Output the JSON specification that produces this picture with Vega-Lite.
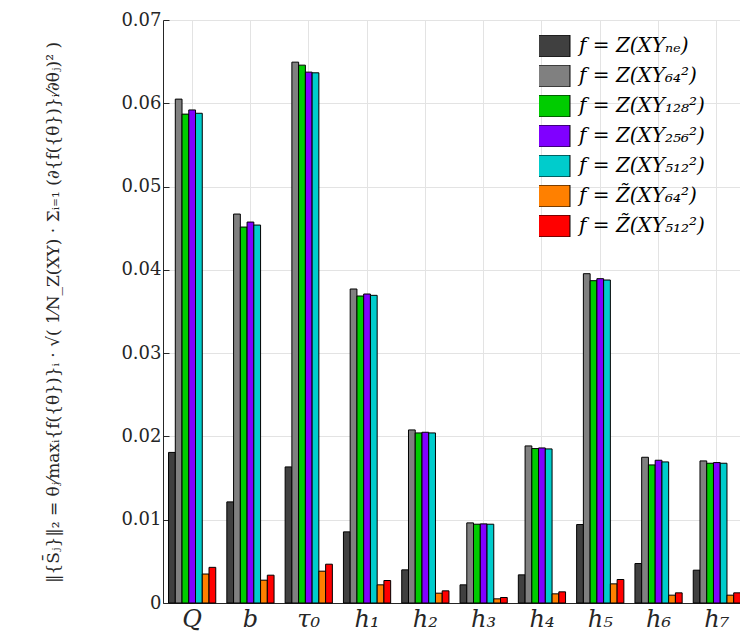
{
  "$schema": "https://vega.github.io/schema/vega-lite/v6.json",
  "width": 583,
  "height": 583,
  "autosize": {"type": "none"},
  "padding": {"left": 163, "top": 20, "right": -6, "bottom": 37},
  "background": "white",
  "config": {
    "view": {"stroke": null},
    "font": "DejaVu Serif"
  },
  "data": {
    "values": [
      {"param": "Q", "series": "f = Z(XYₙₑ)", "value": 0.01808},
      {"param": "Q", "series": "f = Z(XY₆₄²)", "value": 0.0605},
      {"param": "Q", "series": "f = Z(XY₁₂₈²)", "value": 0.0587},
      {"param": "Q", "series": "f = Z(XY₂₅₆²)", "value": 0.0592},
      {"param": "Q", "series": "f = Z(XY₅₁₂²)", "value": 0.0588},
      {"param": "Q", "series": "f = Z̃(XY₆₄²)", "value": 0.00348},
      {"param": "Q", "series": "f = Z̃(XY₅₁₂²)", "value": 0.00428},

      {"param": "b", "series": "f = Z(XYₙₑ)", "value": 0.01214},
      {"param": "b", "series": "f = Z(XY₆₄²)", "value": 0.0467},
      {"param": "b", "series": "f = Z(XY₁₂₈²)", "value": 0.04514},
      {"param": "b", "series": "f = Z(XY₂₅₆²)", "value": 0.04574},
      {"param": "b", "series": "f = Z(XY₅₁₂²)", "value": 0.04538},
      {"param": "b", "series": "f = Z̃(XY₆₄²)", "value": 0.00274},
      {"param": "b", "series": "f = Z̃(XY₅₁₂²)", "value": 0.00334},

      {"param": "τ₀", "series": "f = Z(XYₙₑ)", "value": 0.01634},
      {"param": "τ₀", "series": "f = Z(XY₆₄²)", "value": 0.06494},
      {"param": "τ₀", "series": "f = Z(XY₁₂₈²)", "value": 0.06458},
      {"param": "τ₀", "series": "f = Z(XY₂₅₆²)", "value": 0.06374},
      {"param": "τ₀", "series": "f = Z(XY₅₁₂²)", "value": 0.06366},
      {"param": "τ₀", "series": "f = Z̃(XY₆₄²)", "value": 0.00382},
      {"param": "τ₀", "series": "f = Z̃(XY₅₁₂²)", "value": 0.00466},

      {"param": "h₁", "series": "f = Z(XYₙₑ)", "value": 0.00854},
      {"param": "h₁", "series": "f = Z(XY₆₄²)", "value": 0.0377},
      {"param": "h₁", "series": "f = Z(XY₁₂₈²)", "value": 0.03686},
      {"param": "h₁", "series": "f = Z(XY₂₅₆²)", "value": 0.0371},
      {"param": "h₁", "series": "f = Z(XY₅₁₂²)", "value": 0.03694},
      {"param": "h₁", "series": "f = Z̃(XY₆₄²)", "value": 0.00218},
      {"param": "h₁", "series": "f = Z̃(XY₅₁₂²)", "value": 0.0027},

      {"param": "h₂", "series": "f = Z(XYₙₑ)", "value": 0.00398},
      {"param": "h₂", "series": "f = Z(XY₆₄²)", "value": 0.02078},
      {"param": "h₂", "series": "f = Z(XY₁₂₈²)", "value": 0.02042},
      {"param": "h₂", "series": "f = Z(XY₂₅₆²)", "value": 0.0205},
      {"param": "h₂", "series": "f = Z(XY₅₁₂²)", "value": 0.02042},
      {"param": "h₂", "series": "f = Z̃(XY₆₄²)", "value": 0.00118},
      {"param": "h₂", "series": "f = Z̃(XY₅₁₂²)", "value": 0.00146},

      {"param": "h₃", "series": "f = Z(XYₙₑ)", "value": 0.00218},
      {"param": "h₃", "series": "f = Z(XY₆₄²)", "value": 0.00962},
      {"param": "h₃", "series": "f = Z(XY₁₂₈²)", "value": 0.00946},
      {"param": "h₃", "series": "f = Z(XY₂₅₆²)", "value": 0.0095},
      {"param": "h₃", "series": "f = Z(XY₅₁₂²)", "value": 0.00946},
      {"param": "h₃", "series": "f = Z̃(XY₆₄²)", "value": 0.0005},
      {"param": "h₃", "series": "f = Z̃(XY₅₁₂²)", "value": 0.00066},

      {"param": "h₄", "series": "f = Z(XYₙₑ)", "value": 0.00338},
      {"param": "h₄", "series": "f = Z(XY₆₄²)", "value": 0.01886},
      {"param": "h₄", "series": "f = Z(XY₁₂₈²)", "value": 0.01854},
      {"param": "h₄", "series": "f = Z(XY₂₅₆²)", "value": 0.01862},
      {"param": "h₄", "series": "f = Z(XY₅₁₂²)", "value": 0.0185},
      {"param": "h₄", "series": "f = Z̃(XY₆₄²)", "value": 0.0011},
      {"param": "h₄", "series": "f = Z̃(XY₅₁₂²)", "value": 0.00134},

      {"param": "h₅", "series": "f = Z(XYₙₑ)", "value": 0.00942},
      {"param": "h₅", "series": "f = Z(XY₆₄²)", "value": 0.03954},
      {"param": "h₅", "series": "f = Z(XY₁₂₈²)", "value": 0.0387},
      {"param": "h₅", "series": "f = Z(XY₂₅₆²)", "value": 0.03894},
      {"param": "h₅", "series": "f = Z(XY₅₁₂²)", "value": 0.03878},
      {"param": "h₅", "series": "f = Z̃(XY₆₄²)", "value": 0.0023},
      {"param": "h₅", "series": "f = Z̃(XY₅₁₂²)", "value": 0.00282},

      {"param": "h₆", "series": "f = Z(XYₙₑ)", "value": 0.00474},
      {"param": "h₆", "series": "f = Z(XY₆₄²)", "value": 0.0175},
      {"param": "h₆", "series": "f = Z(XY₁₂₈²)", "value": 0.01658},
      {"param": "h₆", "series": "f = Z(XY₂₅₆²)", "value": 0.01714},
      {"param": "h₆", "series": "f = Z(XY₅₁₂²)", "value": 0.01694},
      {"param": "h₆", "series": "f = Z̃(XY₆₄²)", "value": 0.00094},
      {"param": "h₆", "series": "f = Z̃(XY₅₁₂²)", "value": 0.00122},

      {"param": "h₇", "series": "f = Z(XYₙₑ)", "value": 0.00394},
      {"param": "h₇", "series": "f = Z(XY₆₄²)", "value": 0.01706},
      {"param": "h₇", "series": "f = Z(XY₁₂₈²)", "value": 0.01678},
      {"param": "h₇", "series": "f = Z(XY₂₅₆²)", "value": 0.01686},
      {"param": "h₇", "series": "f = Z(XY₅₁₂²)", "value": 0.01678},
      {"param": "h₇", "series": "f = Z̃(XY₆₄²)", "value": 0.00094},
      {"param": "h₇", "series": "f = Z̃(XY₅₁₂²)", "value": 0.00122}
    ]
  },
  "mark": {"type": "bar", "stroke": "black", "strokeWidth": 1, "opacity": 1},
  "encoding": {
    "x": {
      "field": "param",
      "type": "nominal",
      "sort": null,
      "scale": {"paddingInner": 0.19, "paddingOuter": 0.095},
      "axis": {
        "title": null,
        "labelAngle": 0,
        "labelFont": "DejaVu Serif",
        "labelFontStyle": "italic",
        "labelFontSize": 24,
        "labelColor": "#262626",
        "labelPadding": 4,
        "ticks": false,
        "domainColor": "#262626",
        "domainWidth": 1,
        "grid": true,
        "gridColor": "#e3e3e3",
        "gridWidth": 1,
        "zindex": 0
      }
    },
    "xOffset": {
      "field": "series",
      "type": "nominal",
      "sort": null,
      "scale": {"paddingInner": 0, "paddingOuter": 0}
    },
    "y": {
      "field": "value",
      "type": "quantitative",
      "scale": {"domain": [0, 0.07], "nice": false},
      "axis": {
        "values": [0, 0.01, 0.02, 0.03, 0.04, 0.05, 0.06, 0.07],
        "labelExpr": "datum.value == 0 ? '0' : format(datum.value, '.2f')",
        "labelFont": "DejaVu Serif",
        "labelFontSize": 18,
        "labelColor": "#262626",
        "labelPadding": 8,
        "tickSize": -6,
        "tickColor": "#262626",
        "domainColor": "#262626",
        "domainWidth": 1,
        "gridColor": "#e3e3e3",
        "gridWidth": 1,
        "title": "‖{S̄ⱼ}‖₂ = θⱼ⁄maxᵢ{f({θ})}ᵢ · √( 1⁄N_Z(XY) · Σᵢ₌₁ (∂{f({θ})}ᵢ⁄∂θⱼ)² )",
        "titleFont": "DejaVu Serif",
        "titleFontSize": 17,
        "titleFontWeight": "normal",
        "titleColor": "#262626",
        "titleX": -110,
        "titleY": 292,
        "titleAlign": "center",
        "titleBaseline": "middle",
        "titleAngle": 270,
        "titleLimit": 630
      }
    },
    "color": {
      "field": "series",
      "type": "nominal",
      "sort": null,
      "scale": {
        "domain": ["f = Z(XYₙₑ)", "f = Z(XY₆₄²)", "f = Z(XY₁₂₈²)", "f = Z(XY₂₅₆²)", "f = Z(XY₅₁₂²)", "f = Z̃(XY₆₄²)", "f = Z̃(XY₅₁₂²)"],
        "range": ["#404040", "#808080", "#00cc00", "#8000ff", "#00cccc", "#ff8000", "#ff0000"]
      },
      "legend": {
        "title": null,
        "orient": "none",
        "legendX": 376,
        "legendY": 15,
        "symbolType": "M-1.6,-0.95H1.6V0.95H-1.6Z",
        "symbolSize": 534,
        "symbolStrokeColor": "black",
        "symbolStrokeWidth": 1,
        "symbolOpacity": 1,
        "labelFont": "DejaVu Serif",
        "labelFontStyle": "italic",
        "labelFontSize": 20,
        "labelColor": "black",
        "labelOffset": 15,
        "labelLimit": 300,
        "clipHeight": 22,
        "rowPadding": 8,
        "padding": 0
      }
    }
  }
}
